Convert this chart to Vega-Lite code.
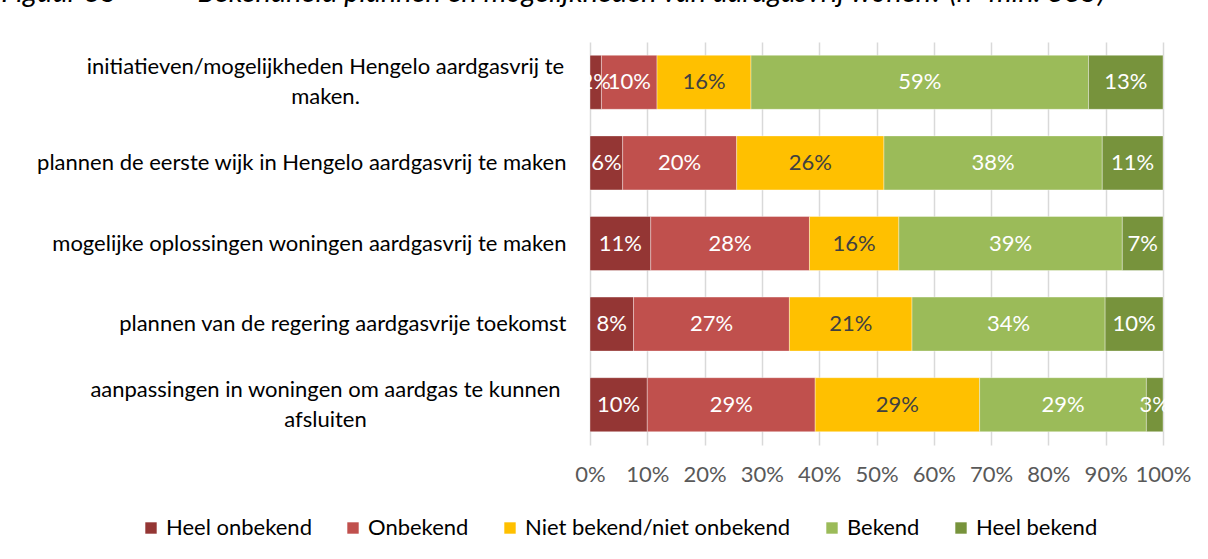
{
  "$schema": "https://vega.github.io/schema/vega-lite/v6.json",
  "width": 573,
  "height": 403,
  "autosize": {"type": "none"},
  "padding": {"left": 590, "top": 42, "right": 45, "bottom": 114},
  "background": "#ffffff",
  "title": {
    "text": "Figuur 35\u2003\u2003\u2003\u2003Bekendheid plannen en mogelijkheden van aardgasvrij wonen? (n=min. 885)",
    "anchor": "start",
    "frame": "bounds",
    "baseline": "alphabetic",
    "offset": 11,
    "dx": -35,
    "font": "Lato",
    "fontSize": 29,
    "fontStyle": "italic",
    "fontWeight": "normal",
    "color": "#000000"
  },
  "data": {
    "values": [
      {"item": "initiatieven/mogelijkheden Hengelo aardgasvrij te|maken.", "cat": "Heel onbekend", "v": 0.020},
      {"item": "initiatieven/mogelijkheden Hengelo aardgasvrij te|maken.", "cat": "Onbekend", "v": 0.097},
      {"item": "initiatieven/mogelijkheden Hengelo aardgasvrij te|maken.", "cat": "Niet bekend/niet onbekend", "v": 0.164},
      {"item": "initiatieven/mogelijkheden Hengelo aardgasvrij te|maken.", "cat": "Bekend", "v": 0.589},
      {"item": "initiatieven/mogelijkheden Hengelo aardgasvrij te|maken.", "cat": "Heel bekend", "v": 0.130},
      {"item": "plannen de eerste wijk in Hengelo aardgasvrij te maken", "cat": "Heel onbekend", "v": 0.057},
      {"item": "plannen de eerste wijk in Hengelo aardgasvrij te maken", "cat": "Onbekend", "v": 0.199},
      {"item": "plannen de eerste wijk in Hengelo aardgasvrij te maken", "cat": "Niet bekend/niet onbekend", "v": 0.257},
      {"item": "plannen de eerste wijk in Hengelo aardgasvrij te maken", "cat": "Bekend", "v": 0.381},
      {"item": "plannen de eerste wijk in Hengelo aardgasvrij te maken", "cat": "Heel bekend", "v": 0.106},
      {"item": "mogelijke oplossingen woningen aardgasvrij te maken", "cat": "Heel onbekend", "v": 0.106},
      {"item": "mogelijke oplossingen woningen aardgasvrij te maken", "cat": "Onbekend", "v": 0.277},
      {"item": "mogelijke oplossingen woningen aardgasvrij te maken", "cat": "Niet bekend/niet onbekend", "v": 0.156},
      {"item": "mogelijke oplossingen woningen aardgasvrij te maken", "cat": "Bekend", "v": 0.390},
      {"item": "mogelijke oplossingen woningen aardgasvrij te maken", "cat": "Heel bekend", "v": 0.071},
      {"item": "plannen van de regering aardgasvrije toekomst", "cat": "Heel onbekend", "v": 0.076},
      {"item": "plannen van de regering aardgasvrije toekomst", "cat": "Onbekend", "v": 0.272},
      {"item": "plannen van de regering aardgasvrije toekomst", "cat": "Niet bekend/niet onbekend", "v": 0.214},
      {"item": "plannen van de regering aardgasvrije toekomst", "cat": "Bekend", "v": 0.337},
      {"item": "plannen van de regering aardgasvrije toekomst", "cat": "Heel bekend", "v": 0.101},
      {"item": "aanpassingen in woningen om aardgas te kunnen|afsluiten", "cat": "Heel onbekend", "v": 0.100},
      {"item": "aanpassingen in woningen om aardgas te kunnen|afsluiten", "cat": "Onbekend", "v": 0.293},
      {"item": "aanpassingen in woningen om aardgas te kunnen|afsluiten", "cat": "Niet bekend/niet onbekend", "v": 0.287},
      {"item": "aanpassingen in woningen om aardgas te kunnen|afsluiten", "cat": "Bekend", "v": 0.291},
      {"item": "aanpassingen in woningen om aardgas te kunnen|afsluiten", "cat": "Heel bekend", "v": 0.029}
    ]
  },
  "transform": [
    {"calculate": "indexof(['Heel onbekend','Onbekend','Niet bekend/niet onbekend','Bekend','Heel bekend'], datum.cat)", "as": "k"},
    {"stack": "v", "groupby": ["item"], "sort": [{"field": "k", "order": "ascending"}], "as": ["v0", "v1"]},
    {"calculate": "(datum.v0 + datum.v1) / 2", "as": "mid"}
  ],
  "encoding": {
    "y": {
      "field": "item",
      "type": "nominal",
      "sort": null,
      "title": null,
      "scale": {"paddingInner": 0.33, "paddingOuter": 0.165},
      "axis": {
        "domain": false,
        "ticks": false,
        "labelExpr": "split(datum.value, '|')",
        "labelAlign": {"condition": {"test": "indexof(datum.value, '|') >= 0", "value": "center"}, "value": "right"},
        "labelPadding": {"condition": {"test": "indexof(datum.value, '|') >= 0", "value": 265}, "value": 24},
        "labelOffset": {"condition": {"test": "indexof(datum.value, '|') >= 0", "value": -15}, "value": 0},
        "labelFont": "Lato",
        "labelFontSize": 22,
        "labelLineHeight": 30,
        "labelColor": "#000000",
        "labelLimit": 700
      }
    }
  },
  "layer": [
    {
      "mark": {"type": "bar", "stroke": "#ffffff", "strokeWidth": 0.6, "strokeOpacity": 0.6},
      "encoding": {
        "x": {
          "field": "v0",
          "type": "quantitative",
          "title": null,
          "scale": {"domain": [0, 1], "nice": false},
          "axis": {
            "values": [0, 0.1, 0.2, 0.3, 0.4, 0.5, 0.6, 0.7, 0.8, 0.9, 1],
            "format": ".0%",
            "domain": false,
            "ticks": false,
            "grid": true,
            "gridColor": "#d9d9d9",
            "gridWidth": 1.5,
            "labelFont": "Lato",
            "labelFontSize": 22,
            "labelColor": "#595959",
            "labelPadding": 19,
            "labelFlush": false
          }
        },
        "x2": {"field": "v1"},
        "color": {
          "field": "cat",
          "type": "nominal",
          "title": null,
          "scale": {
            "domain": ["Heel onbekend", "Onbekend", "Niet bekend/niet onbekend", "Bekend", "Heel bekend"],
            "range": ["#943634", "#c0504d", "#ffc000", "#9bbb59", "#77933c"]
          },
          "legend": {
            "orient": "none",
            "direction": "horizontal",
            "legendX": -450,
            "legendY": 475,
            "symbolType": "square",
            "symbolSize": 130,
            "symbolStrokeWidth": 0,
            "labelFont": "Lato",
            "labelFontSize": 22,
            "labelColor": "#000000",
            "labelOffset": 4,
            "columnPadding": 30,
            "labelLimit": 400
          }
        }
      }
    },
    {
      "mark": {"type": "text", "font": "Lato", "fontSize": 22, "baseline": "middle", "align": "center"},
      "encoding": {
        "x": {"field": "mid", "type": "quantitative"},
        "text": {"field": "v", "type": "quantitative", "format": ".0%"},
        "color": {
          "condition": {"test": "datum.cat === 'Niet bekend/niet onbekend'", "value": "#404040"},
          "value": "#ffffff"
        }
      }
    }
  ],
  "config": {
    "view": {"stroke": null},
    "font": "Lato"
  }
}
